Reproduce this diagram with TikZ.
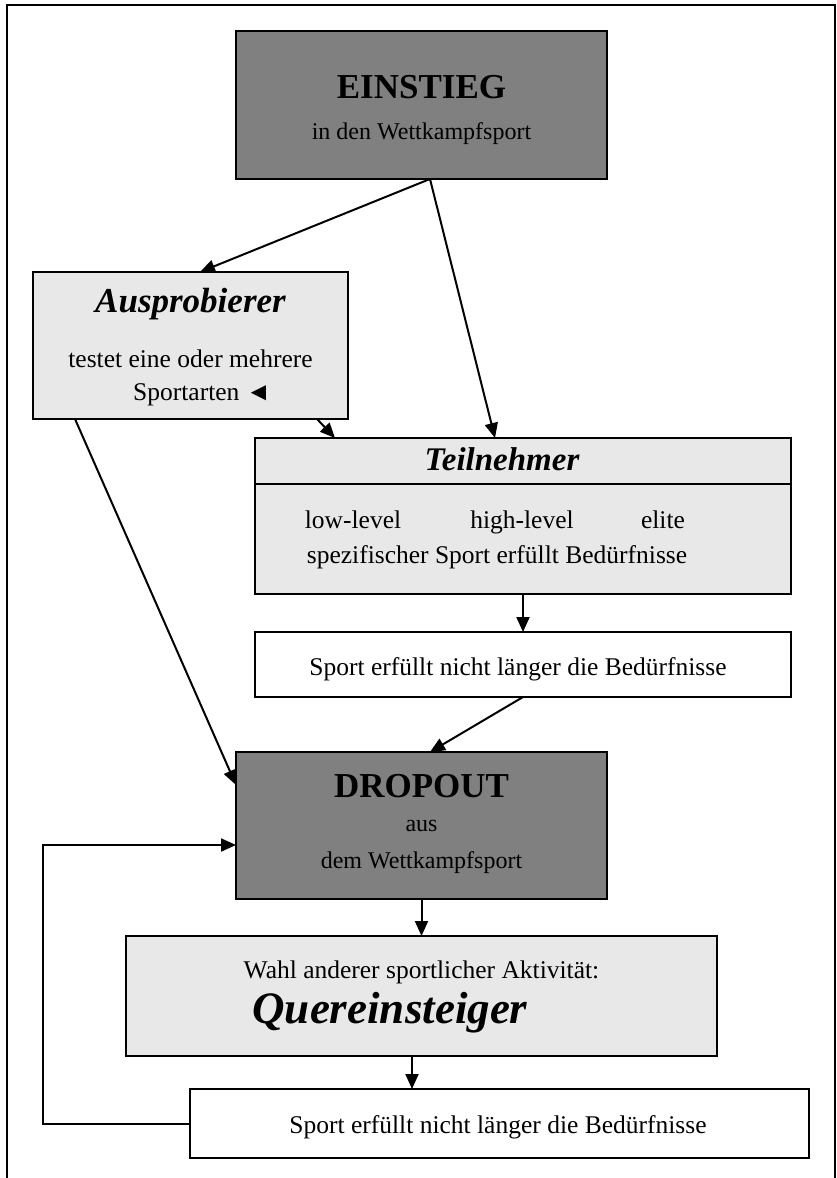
\documentclass[tikz,border=0pt]{standalone}
\usepackage{fontspec}
\setmainfont{Liberation Serif}
\usetikzlibrary{arrows.meta}
\definecolor{darkbox}{RGB}{128,128,128}
\definecolor{lightbox}{RGB}{232,232,232}
\newcommand{\fs}[1]{\fontsize{#1}{#1}\selectfont}
\begin{document}
\begin{tikzpicture}[x=1pt,y=-1pt,
  box/.style={draw,line width=2.8pt,inner sep=0pt,outer sep=0pt,anchor=center},
  darkstep/.style={box,fill=darkbox},
  lightstep/.style={box,fill=lightbox},
  whitestep/.style={box,fill=white},
  txt/.style={inner sep=0pt,anchor=base,font=\fs{25.5}},
  head/.style={inner sep=0pt,anchor=base,font=\fs{35}\bfseries\itshape},
  caps/.style={inner sep=0pt,anchor=base,font=\fs{35}\bfseries},
  flow/.style={line width=2pt,-{Triangle[length=15pt,width=13pt]}},
  plain/.style={line width=2pt}]
\useasboundingbox (0,0) rectangle (836,1178);
% outer frame
\draw[line width=1.5pt] (7,1178) -- (7,5) -- (835,5) -- (835,1178);

% boxes
\node[darkstep,minimum width=371pt,minimum height=148pt] (ein) at (421.5,105) {};
\node[lightstep,minimum width=315pt,minimum height=147pt] (aus) at (190.5,345.5) {};
\node[lightstep,minimum width=536pt,minimum height=156pt] (teil) at (523,516) {};
\node[whitestep,minimum width=536pt,minimum height=65pt] (sp1) at (523,664.5) {};
\node[darkstep,minimum width=371pt,minimum height=147pt] (drop) at (421.5,825.5) {};
\node[lightstep,minimum width=591pt,minimum height=120pt] (quer) at (421.5,996) {};
\node[whitestep,minimum width=619pt,minimum height=69pt] (sp2) at (499.5,1123.5) {};
\draw[line width=2pt] (teil.west |- 0,484) coordinate (divl) -- (teil.east |- 0,484) coordinate (divr);

% texts
\node[caps] (einT) at (421.5,98) {EINSTIEG};
\node[txt,font=\fs{24}] (einS) at (421.5,139) {in den Wettkampfsport};
\node[head] (ausT) at (190.5,312) {Ausprobierer};
\node[txt] (ausA) at (190.5,367) {testet eine oder mehrere};
\node[txt,anchor=base west] (ausB) at (133,400) {Sportarten ◄};
\node[head,font=\fs{33}\bfseries\itshape] (teilT) at (502,470) {Teilnehmer};
\node[txt] (lvA) at (353,528) {low-level};
\node[txt] (lvB) at (522,528) {high-level};
\node[txt] (lvC) at (663,528) {elite};
\node[txt] (teilS) at (497,563) {spezifischer Sport erfüllt Bedürfnisse};
\node[txt] (sp1T) at (518,675) {Sport erfüllt nicht länger die Bedürfnisse};
\node[caps] (dropT) at (421.5,797) {DROPOUT};
\node[txt,font=\fs{24}] (dropA) at (421.5,831) {aus};
\node[txt,font=\fs{24}] (dropB) at (421.5,868) {dem Wettkampfsport};
\node[txt] (querA) at (421.5,978) {Wahl anderer sportlicher Aktivität:};
\node[head,font=\fs{45}\bfseries\itshape] (querT) at (390,1023) {Quereinsteiger};
\node[txt] (sp2T) at (498,1133) {Sport erfüllt nicht länger die Bedürfnisse};

% connectors
\draw[flow] ([xshift=8.5pt]ein.south) -- ([xshift=9.5pt]aus.north);
\draw[flow] ([xshift=8.5pt]ein.south) -- ([xshift=-28pt]teil.north);
\draw[flow] ([xshift=126.5pt]aus.south) -- ([xshift=-188pt]teil.north);
\draw[flow] ([xshift=-115.5pt]aus.south) -- ([yshift=40.5pt]drop.west);
\draw[flow] (teil.south) -- (sp1.north);
\draw[flow] (sp1.south) -- ([xshift=8.5pt]drop.north);
\draw[flow] (drop.south) -- (quer.north);
\draw[flow] ([xshift=-9.5pt]quer.south) -- ([xshift=-9.5pt]quer.south |- sp2.north);
\coordinate (back) at (43,845);
\draw[flow] (sp2.west) -| (back) -- ([yshift=-19.5pt]drop.west);
\end{tikzpicture}
\end{document}
